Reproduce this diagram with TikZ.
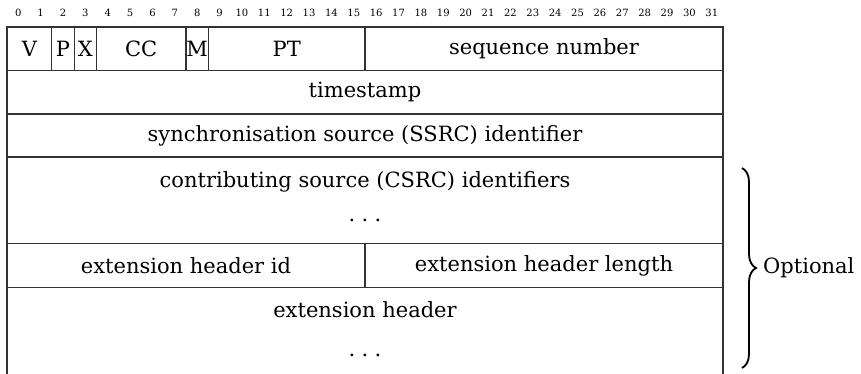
\documentclass[tikz,border=0pt]{standalone}
\usepackage{fontspec}
\setmainfont{DejaVu Serif}
\usetikzlibrary{decorations.pathreplacing}
\newcommand{\spdots}{.\hspace{0.3em}.\hspace{0.3em}.}
\begin{document}
\begin{tikzpicture}[x=1pt,y=-1pt,
  field/.style={draw=black!80, line width=1.1pt, inner sep=0pt, minimum height=43.5pt,
    font=\fontsize{21}{25}\selectfont},
  lbl/.style={inner sep=0pt, font=\fontsize{21}{25}\selectfont},
  bitnum/.style={inner sep=0pt, font=\fontsize{10}{12}\selectfont},
  edge/.style={draw=black!80, line width=1.1pt}]
\useasboundingbox (0,0) rectangle (861,374);
\def\bw{22.375}
% bit numbers
\foreach \i in {0,...,31}
  \node[bitnum] (b\i) at ({7+\bw*(\i+0.5)},13) {\i};
% row 1
\node[field, minimum width=2*\bw*1pt] (v) at ({7+\bw*1},48.75) {V};
\node[field, minimum width=1*\bw*1pt] (p) at ({7+\bw*2.5},48.75) {P};
\node[field, minimum width=1*\bw*1pt] (x) at ({7+\bw*3.5},48.75) {X};
\node[field, minimum width=4*\bw*1pt] (cc) at ({7+\bw*6},48.75) {CC};
\node[field, minimum width=1*\bw*1pt] (m) at ({7+\bw*8.5},48.75) {M};
\node[field, minimum width=7*\bw*1pt] (pt) at ({7+\bw*12.5},48.75) {PT};
\node[field, minimum width=16*\bw*1pt] (seq) at ({7+\bw*24},48.75) {sequence number};
% row 2
\node[field, minimum width=32*\bw*1pt] (ts) at (365,92.25) {timestamp};
% row 3
\node[field, minimum width=32*\bw*1pt] (ssrc) at (365,135.75) {synchronisation source (SSRC) identifier};
% rows 4-5
\node[field, minimum width=32*\bw*1pt, minimum height=87pt] (csrc) at (365,200.25) {};
\node[lbl] (csrct) at (365,182) {contributing source (CSRC) identifiers};
\node[lbl, anchor=base] (csrcd) at (365,221) {\spdots};
% row 6
\node[field, minimum width=16*\bw*1pt] (extid) at ({7+\bw*8},265.5) {extension header id};
\node[field, minimum width=16*\bw*1pt] (extlen) at ({7+\bw*24},265.5) {extension header length};
% row 7 (open bottom)
\coordinate (el) at (7,287.25);
\coordinate (er) at (723,287.25);
\coordinate (elb) at (7,374);
\coordinate (erb) at (723,374);
\draw[edge] (el) -- (elb);
\draw[edge] (er) -- (erb);
\node[lbl] (ext) at (365,310) {extension header};
\node[lbl, anchor=base] (extd) at (365,356) {\spdots};
% brace
\coordinate (bt) at (742,168);
\coordinate (bb) at (742,368);
\draw[decorate, decoration={brace, amplitude=14pt}, line width=1.8pt] (bt) -- (bb);
\node[lbl, anchor=west] (opt) at (763,268) {Optional};
\end{tikzpicture}
\end{document}
